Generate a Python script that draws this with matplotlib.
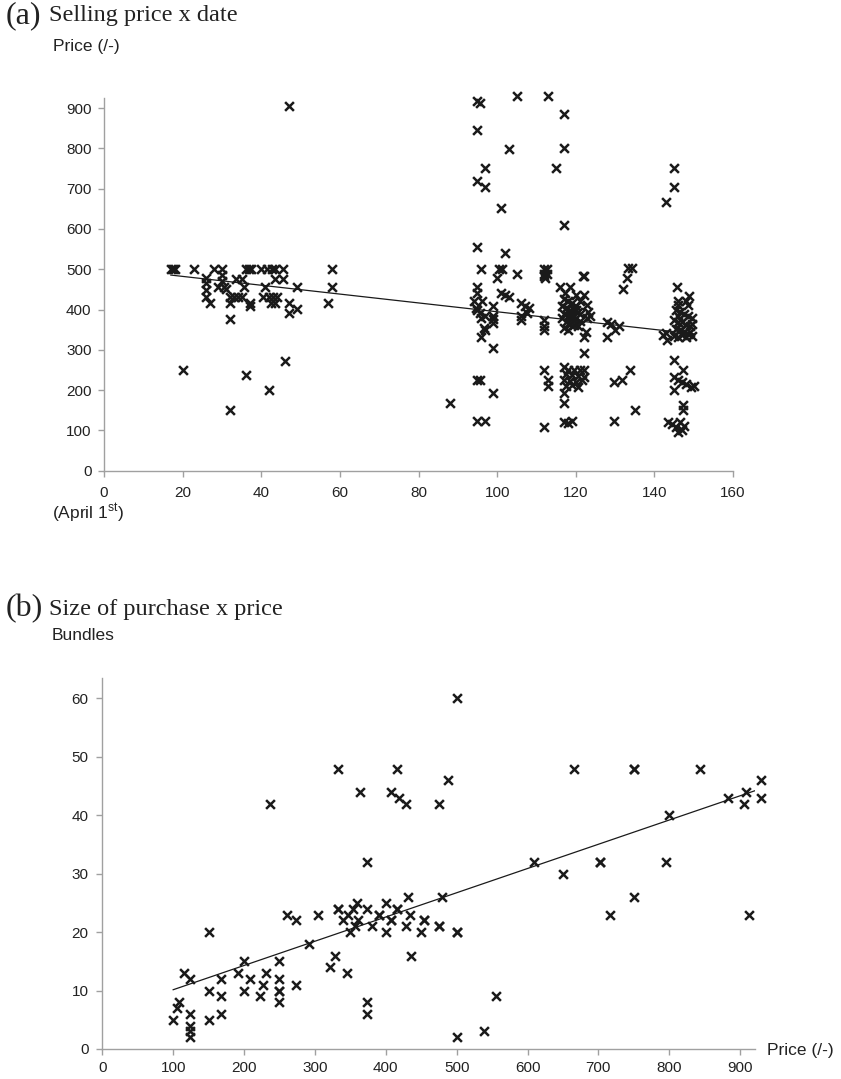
import numpy as np
import matplotlib
matplotlib.use("Agg")
import matplotlib.pyplot as plt

plt.rcParams['font.family'] = ['Liberation Sans', 'DejaVu Sans']
plt.rcParams['mathtext.fontset'] = 'custom'
plt.rcParams['mathtext.rm'] = 'Liberation Sans'

# (a) selling price by day (day 0 = April 1st)
days = [
    17, 17.5, 18, 20, 23, 26, 26, 26, 26, 27, 28, 30, 30, 30, 29, 30.5, 31, 32, 32, 32, 32,
    33, 34, 33.7, 35, 36, 37, 37.5, 35.5, 35, 37.2, 37.2, 36, 40, 41.4, 42.7, 43.5, 45.6,
    41, 40.5, 42, 43, 44, 42.5, 43.5, 43.5, 45.6, 42, 46, 47, 49, 47, 49, 58, 58, 57, 47,
    88, 95, 95.7, 95, 97, 95, 97, 101, 103, 105, 95, 102, 96, 100.5, 101.3, 105, 100,
    95, 95, 94.2, 96.2, 94.8, 95.6, 97, 99, 99, 99, 97, 96, 99, 101, 102, 103, 106, 107,
    108, 107.5, 106, 106, 99, 96.6, 94.5, 96, 95, 95.6, 99, 95, 97,
    112, 112.6, 112, 112.6, 112.3, 112, 113, 112, 112, 112, 112, 113, 113, 112,
    115, 117, 117, 117, 116, 118.6, 117.3, 120, 122, 122, 122.8, 122.8, 122, 122, 121.8,
    117, 118, 119, 120, 117.5, 118.5, 119.5, 120.5, 121, 117, 118, 119, 120, 121, 117.5,
    118.5, 119.5, 120.5, 117, 118, 119, 120, 121, 116.5, 116.5, 123, 123.5, 122.5,
    117, 118, 119.5, 121, 122, 117.5, 119, 120.5, 122, 117, 118.5, 120, 121.5, 117.5, 119,
    120.5, 117, 117, 117, 119, 118,
    127.9, 129, 130, 127.9, 131, 129.8, 131.7, 133.8, 129.8, 135, 133.4, 134.3, 133, 132,
    145, 145, 143, 145.7, 148.7, 146, 148, 146, 148.5,
    145.5, 146.5, 147.5, 148.5, 149.5, 145, 146, 147, 148, 149, 145.5, 146.5, 147.5, 148.5,
    149.5, 145, 146, 147, 148, 149, 149.5, 146,
    142.3, 143.2, 143, 144.9, 147.4, 145, 146, 147, 148, 149.3, 150, 145, 147.3, 147.3,
    143.5, 144.5, 145.5, 146.5, 147, 146, 147.5,
]
prices = [
    500, 500, 500, 250, 500, 478, 465, 449, 432, 417, 500, 500, 486, 470, 457, 457, 450, 432, 417, 376, 151,
    432, 432, 476, 475, 500, 500, 500, 457, 432, 417, 409, 238, 500, 500, 500, 500, 500,
    457, 432, 432, 432, 432, 417, 417, 476, 476, 200, 272, 417, 457, 391, 401, 500, 455, 417, 906,
    167, 917, 912, 846, 751, 718, 705, 652, 798, 931, 556, 540, 500, 500, 500, 489, 478,
    457, 440, 420, 420, 400, 392, 385, 409, 385, 377, 349, 333, 304, 440, 436, 431, 416, 410,
    403, 391, 385, 374, 367, 354, 404, 380, 226, 226, 192, 124, 124,
    500, 500, 489, 489, 478, 482, 931, 374, 360, 349, 250, 226, 209, 109,
    751, 885, 802, 610, 457, 457, 440, 436, 436, 482, 412, 379, 333, 292, 482,
    425, 420, 415, 410, 405, 400, 398, 395, 390, 390, 385, 380, 378, 372, 370,
    365, 362, 358, 355, 350, 385, 400, 420, 410, 380, 395, 385, 345,
    258, 250, 250, 250, 250, 240, 238, 235, 232, 226, 222, 220, 225, 210, 212,
    208, 193, 168, 122, 124, 118,
    368, 365, 349, 333, 360, 221, 225, 250, 124, 151, 503, 503, 479, 450,
    751, 704, 668, 455, 434, 420, 420, 412, 412,
    400, 395, 390, 385, 380, 375, 370, 368, 362, 358, 352, 348, 345, 340,
    335, 335, 332, 338, 332, 345, 365, 385,
    337, 325, 342, 275, 250, 232, 225, 220, 215, 208, 210, 200, 163, 150,
    122, 115, 108, 120, 100, 97, 110,
]

# (b) bundles bought by price
price_b = [
    100, 105, 108, 115, 124, 124, 124, 124, 124, 150, 150, 150, 167, 167, 167, 192, 200, 200,
    208, 222, 227, 231, 237, 250, 250, 250, 250, 250, 260, 273, 273, 291, 304, 321, 328, 333,
    345, 333, 333, 340, 347, 350, 356, 359, 361, 354, 363, 373, 373, 373, 373, 381, 391, 391,
    400, 400, 408, 416, 419, 428, 408, 408, 416, 416, 428, 434, 432, 436, 450, 454, 454, 475,
    475, 475, 480, 488, 500, 500, 500, 500, 539, 555, 609, 650, 666, 702, 702, 716, 750, 750,
    750, 843, 799, 796, 883, 908, 905, 929, 930, 912,
]
bundles = [
    5, 7, 8, 13, 12, 6, 4, 3, 2, 20, 10, 5, 12, 9, 6, 13, 15, 10,
    12, 9, 11, 13, 42, 15, 12, 10, 10, 8, 23, 22, 11, 18, 23, 14, 16, 48,
    13, 24, 24, 22, 23, 20, 21, 25, 22, 24, 44, 32, 24, 8, 6, 21, 23, 23,
    25, 20, 44, 48, 43, 42, 22, 22, 24, 24, 21, 23, 26, 16, 20, 22, 22, 42,
    21, 21, 26, 46, 60, 20, 20, 2, 3, 9, 32, 30, 48, 32, 32, 23, 48, 48,
    26, 48, 40, 32, 43, 44, 42, 46, 43, 23,
]

GREY = '#a0a0a0'
INK = '#1a1a1a'
W, H = 841, 1079


def style_axes(ax, xpad, ypad):
    for side in ['top', 'right']:
        ax.spines[side].set_visible(False)
    for side in ['left', 'bottom']:
        ax.spines[side].set_color(GREY)
        ax.spines[side].set_linewidth(1.0)
    ax.tick_params(axis='both', colors=GREY, labelcolor='#222222', labelsize=11,
                   length=4, width=1.0, direction='out')
    ax.tick_params(axis='x', pad=xpad)
    ax.tick_params(axis='y', pad=ypad)


def scatter_with_trend(ax, x, y):
    x = np.asarray(x, float)
    y = np.asarray(y, float)
    ax.scatter(x, y, marker='x', s=40, linewidths=1.8, color=INK, clip_on=False, zorder=3)
    k, b = np.polyfit(x, y, 1)
    xs = np.array([x.min(), x.max()])
    ax.plot(xs, k * xs + b, color=INK, lw=0.9, zorder=4)


def fig_text(px, py, s, **kw):
    fig.text(px / W, 1 - py / H, s, **kw)


fig = plt.figure(figsize=(W / 100, H / 100), dpi=100)

# panel (a)
ax1 = fig.add_axes([104 / W, 1 - 470.7 / H, (733 - 104) / W, (470.7 - 98) / H])
scatter_with_trend(ax1, days, prices)
ax1.set_xlim(0, 160)
ax1.set_ylim(0, 925)
ax1.set_xticks(range(0, 161, 20))
ax1.set_yticks(range(0, 901, 100))
style_axes(ax1, xpad=7, ypad=5)

# panel (b)
ax2 = fig.add_axes([102.3 / W, 1 - 1049 / H, (755 - 102.3) / W, (1049 - 678) / H])
scatter_with_trend(ax2, price_b, bundles)
ax2.set_xlim(0, 921)
ax2.set_ylim(0, 63.5)
ax2.set_xticks(range(0, 901, 100))
ax2.set_yticks(range(0, 61, 10))
style_axes(ax2, xpad=5, ypad=6)

serif = ['Liberation Serif', 'DejaVu Serif']
fig_text(6, 16, '(a)', family=serif, fontsize=23, va='center', color='#222222')
fig_text(49, 15, 'Selling price x date', family=serif, fontsize=17.5, va='center', color='#222222')
fig_text(53, 47, 'Price (/-)', fontsize=12.5, va='center', color='#222222')
fig_text(52, 513, r'(April 1$^{\rm st}$)', fontsize=12.5, va='center', color='#222222')

fig_text(6, 609, '(b)', family=serif, fontsize=23, va='center', color='#222222')
fig_text(49, 610, 'Size of purchase x price', family=serif, fontsize=17.5, va='center', color='#222222')
fig_text(52, 636, 'Bundles', fontsize=12.5, va='center', color='#222222')
fig_text(767, 1050, 'Price (/-)', fontsize=12.5, va='center', color='#222222')

fig.savefig('out.png', dpi=100)
